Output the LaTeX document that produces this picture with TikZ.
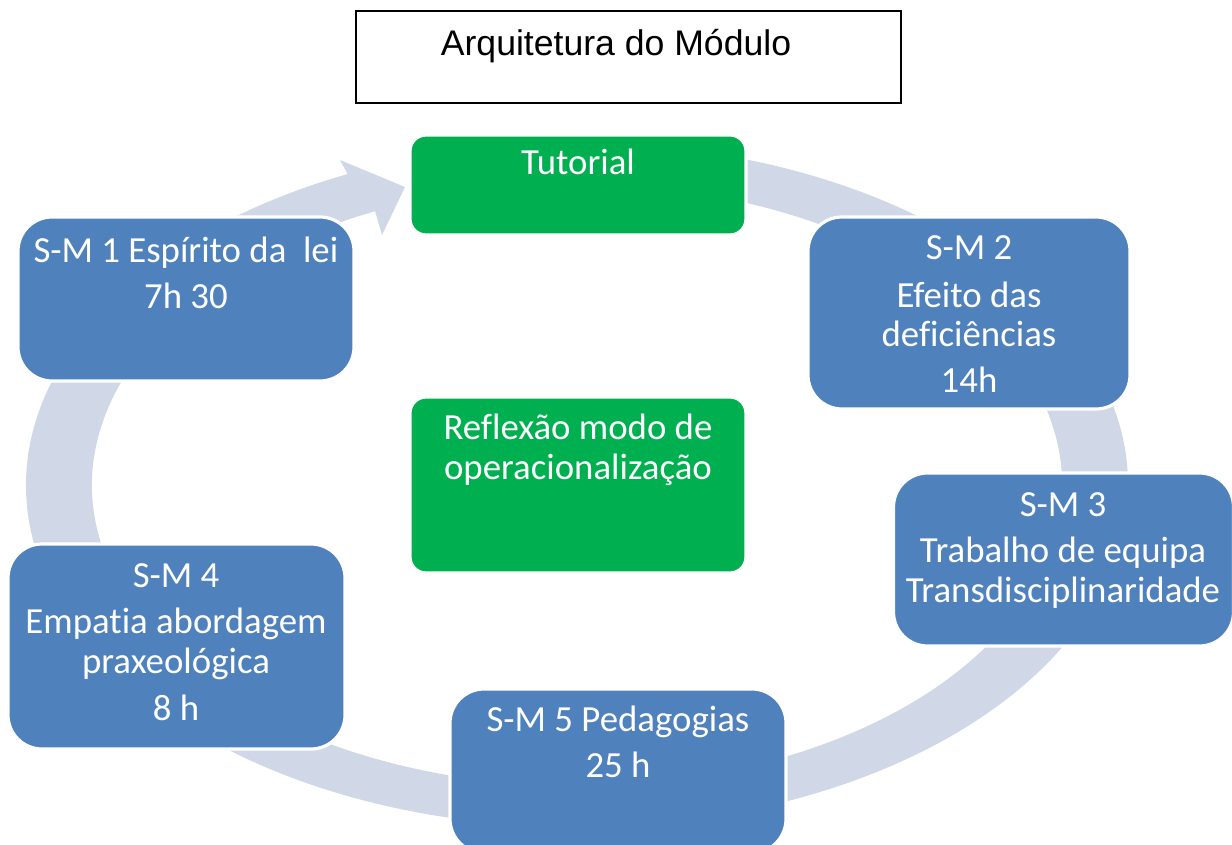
\documentclass[tikz,border=0pt]{standalone}
\usepackage{fontspec}
\setmainfont{Carlito}[Ligatures=NoCommon]
\newfontfamily\arialfont{Liberation Sans}
\definecolor{ringc}{HTML}{D0D8E8}
\definecolor{smblue}{HTML}{4F81BD}
\definecolor{smgreen}{HTML}{00B050}
\begin{document}
\begin{tikzpicture}[x=0.5pt,y=-0.5pt,
  sbox/.style={draw=white, line width=1.6pt, inner sep=0pt},
  bluebox/.style={sbox, fill=smblue, rounded corners=17pt},
  greenbox/.style={sbox, fill=smgreen, rounded corners=8pt},
  txt/.style={text=white, align=center, inner sep=0pt, anchor=base,
    font=\fontsize{18.4}{20}\selectfont},
  titlebox/.style={draw=black, line width=0.6pt, fill=white, inner sep=0pt},
  titletxt/.style={inner sep=0pt, anchor=base, font=\arialfont\fontsize{17.8}{20}\selectfont}]
\useasboundingbox (0,0) rectangle (1232,845);
% cycle ring with arrowhead
\fill[ringc] (577,485) ++(-85:551 and 342)
  arc[start angle=-85, end angle=245.4, x radius=551, y radius=342]
  -- (340,160) -- (405,187) -- (382,235) -- (375.1,211.3)
  arc[start angle=245.4, end angle=-85, x radius=485, y radius=301] -- cycle;
% boxes
\node[greenbox, minimum width=168pt, minimum height=50pt] (tut) at (578,185) {};
\node[greenbox, minimum width=168pt, minimum height=88pt] (refl) at (578,485) {};
\node[bluebox, minimum width=168pt, minimum height=82pt] (sm1) at (186,299) {};
\node[bluebox, minimum width=161pt, minimum height=96pt] (sm2) at (969,313) {};
\node[bluebox, minimum width=170pt, minimum height=86.5pt] (sm3) at (1063.5,559.5) {};
\node[bluebox, minimum width=168.5pt, minimum height=102.5pt] (sm4) at (176.5,646.5) {};
\node[bluebox, minimum width=168pt, minimum height=82pt] (sm5) at (618,771) {};
% texts (base anchor = baseline of last line)
\node[txt] (tutt) at (578,175) {Tutorial};
\node[txt] (reflt) at (578,479) {Reflexão modo de\\operacionalização};
\node[txt] (sm1t) at (186,308) {S-M 1 Espírito da\ \ lei\\[3pt]7h 30};
\node[txt] (sm2t) at (969,393) {S-M 2\\[3.5pt]Efeito das\\deficiências\\[3pt]14h};
\node[txt] (sm3t) at (1063,602) {S-M 3\\[3pt]Trabalho de equipa\\Transdisciplinaridade};
\node[txt] (sm4t) at (176,720) {S-M 4\\[3pt]Empatia abordagem\\praxeológica\\[3.5pt]8 h};
\node[txt] (sm5t) at (618,777) {S-M 5 Pedagogias\\[3pt]25 h};
% title
\node[titlebox, minimum width=272.5pt, minimum height=46pt] (title) at (628.5,57) {};
\node[titletxt] (titlet) at (616,56) {Arquitetura do Módulo};
\end{tikzpicture}
\end{document}
